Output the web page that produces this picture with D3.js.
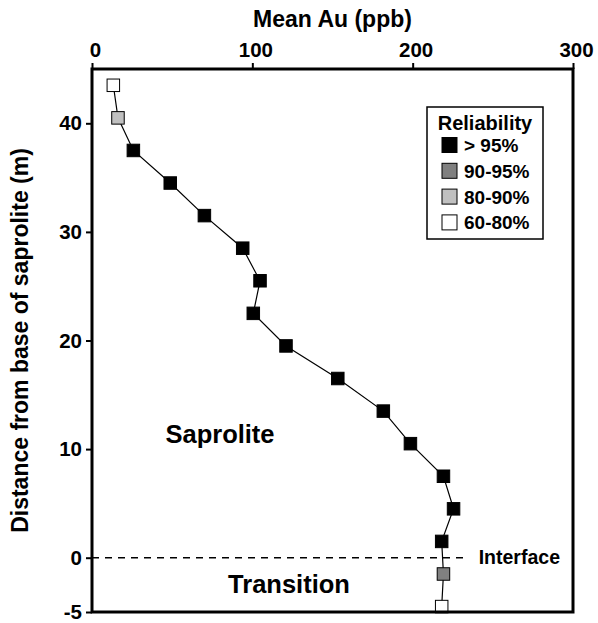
<!DOCTYPE html>
<html>
<head>
<meta charset="utf-8">
<script src="https://cdn.jsdelivr.net/npm/d3@7"></script>
<style>
  html, body { margin: 0; padding: 0; background: #fff; }
  svg { display: block; font-family: "Liberation Sans", Arial, Helvetica, sans-serif; font-weight: bold; }
</style>
</head>
<body>
<svg id="chart" width="598" height="623"></svg>
<script>
// Depth profile of mean gold through the saprolite and transition zone
const depth = [43.5, 40.5, 37.5, 34.5, 31.5, 28.5, 25.5, 22.5, 19.5, 16.5, 13.5, 10.5, 7.5, 4.5, 1.5, -1.5, -4.5];
const meanAu = [13.3, 16.2, 25.8, 48.8, 70.1, 94.0, 104.8, 100.6, 121.0, 153.3, 181.7, 198.6, 219.2, 225.5, 218.1, 219.2, 218.1];
const reliability = ["60-80%", "80-90%", "> 95%", "> 95%", "> 95%", "> 95%", "> 95%", "> 95%", "> 95%",
                     "> 95%", "> 95%", "> 95%", "> 95%", "> 95%", "> 95%", "90-95%", "60-80%"];

const reliabilityClasses = ["> 95%", "90-95%", "80-90%", "60-80%"];
const reliabilityColors = ["#000000", "#808080", "#c0c0c0", "#ffffff"];

const xTicks = [0, 100, 200, 300];
const yTicks = [-5, 0, 10, 20, 30, 40];

const margin = { left: 92, right: 25, top: 69, bottom: 11 };
const W = 598, H = 623;

const svg = d3.select("#chart");

const x = d3.scaleLinear().domain([0, 300]).range([margin.left, W - margin.right]);
const y = d3.scaleLinear().domain([-5, 45]).range([H - margin.bottom, margin.top]);
const fill = d3.scaleOrdinal().domain(reliabilityClasses).range(reliabilityColors);

const points = depth.map((d, i) => ({ depth: d, au: meanAu[i], rel: reliability[i] }));

// Saprolite / transition interface
svg.append("line")
  .attr("x1", x(0)).attr("x2", x(300))
  .attr("y1", y(0)).attr("y2", y(0))
  .attr("stroke", "#000").attr("stroke-width", 1.6)
  .attr("stroke-dasharray", "7,6");

const iface = svg.append("text")
  .attr("x", x(300) - 13).attr("y", y(0) + 6.5)
  .attr("text-anchor", "end")
  .attr("font-size", 19.5)
  .text("Interface");
const ib = iface.node().getBBox();
svg.insert("rect", "text")
  .attr("x", ib.x - 10).attr("y", ib.y)
  .attr("width", ib.width + 18).attr("height", ib.height)
  .attr("fill", "#fff");

// Profile line and markers
svg.append("path")
  .datum(points)
  .attr("fill", "none")
  .attr("stroke", "#000")
  .attr("stroke-width", 1.2)
  .attr("d", d3.line().x(d => x(d.au)).y(d => y(d.depth)));

const ms = 12.5;
svg.selectAll("rect.pt")
  .data(points)
  .join("rect")
  .attr("class", "pt")
  .attr("x", d => x(d.au) - ms / 2)
  .attr("y", d => y(d.depth) - ms / 2)
  .attr("width", ms).attr("height", ms)
  .attr("fill", d => fill(d.rel))
  .attr("stroke", "#000").attr("stroke-width", 1);

// Frame
svg.append("rect")
  .attr("x", x(0)).attr("y", y(45))
  .attr("width", x(300) - x(0)).attr("height", y(-5) - y(45))
  .attr("fill", "none").attr("stroke", "#000").attr("stroke-width", 3);

// Axes
const xAxis = svg.append("g")
  .attr("transform", `translate(0,${y(45)})`)
  .call(d3.axisTop(x).tickValues(xTicks).tickSize(6).tickPadding(6).tickFormat(d => String(d)));
xAxis.select(".domain").remove();
xAxis.selectAll(".tick line").attr("stroke-width", 2);
xAxis.selectAll(".tick text")
  .attr("font-size", 20.5).attr("font-family", null).attr("font-weight", "bold")
  .attr("dx", 3).attr("fill", "#000");

const yAxis = svg.append("g")
  .attr("transform", `translate(${x(0)},0)`)
  .call(d3.axisLeft(y).tickValues(yTicks).tickSize(6).tickPadding(4).tickFormat(d => String(d)));
yAxis.select(".domain").remove();
yAxis.selectAll(".tick line").attr("stroke-width", 2);
yAxis.selectAll(".tick text")
  .attr("font-size", 20.5).attr("font-family", null).attr("font-weight", "bold")
  .attr("fill", "#000");

// Axis titles
svg.append("text")
  .attr("x", (x(0) + x(300)) / 2).attr("y", 27)
  .attr("text-anchor", "middle")
  .attr("font-size", 23)
  .text("Mean Au (ppb)");

svg.append("text")
  .attr("transform", `translate(28,${(y(45) + y(-5)) / 2}) rotate(-90)`)
  .attr("text-anchor", "middle")
  .attr("font-size", 23)
  .text("Distance from base of saprolite (m)");

// Zone labels
svg.append("text")
  .attr("x", 220).attr("y", 443)
  .attr("text-anchor", "middle")
  .attr("font-size", 25.5)
  .text("Saprolite");

svg.append("text")
  .attr("x", 289).attr("y", 593)
  .attr("text-anchor", "middle")
  .attr("font-size", 25.5)
  .text("Transition");

// Legend
const lg = svg.append("g").attr("transform", "translate(427,107)");
lg.append("rect")
  .attr("width", 116).attr("height", 132)
  .attr("fill", "#fff").attr("stroke", "#000").attr("stroke-width", 1.5);
lg.append("text")
  .attr("x", 58).attr("y", 23)
  .attr("text-anchor", "middle")
  .attr("font-size", 20)
  .text("Reliability");
const items = lg.selectAll("g.item")
  .data(reliabilityClasses)
  .join("g")
  .attr("class", "item")
  .attr("transform", (d, i) => `translate(15,${38 + i * 25.8})`);
items.append("rect")
  .attr("x", 0).attr("y", -7.5)
  .attr("width", 15).attr("height", 15)
  .attr("fill", d => fill(d))
  .attr("stroke", "#000").attr("stroke-width", 1);
items.append("text")
  .attr("x", 22).attr("y", 7)
  .attr("font-size", 19)
  .text(d => d);
</script>
</body>
</html>
